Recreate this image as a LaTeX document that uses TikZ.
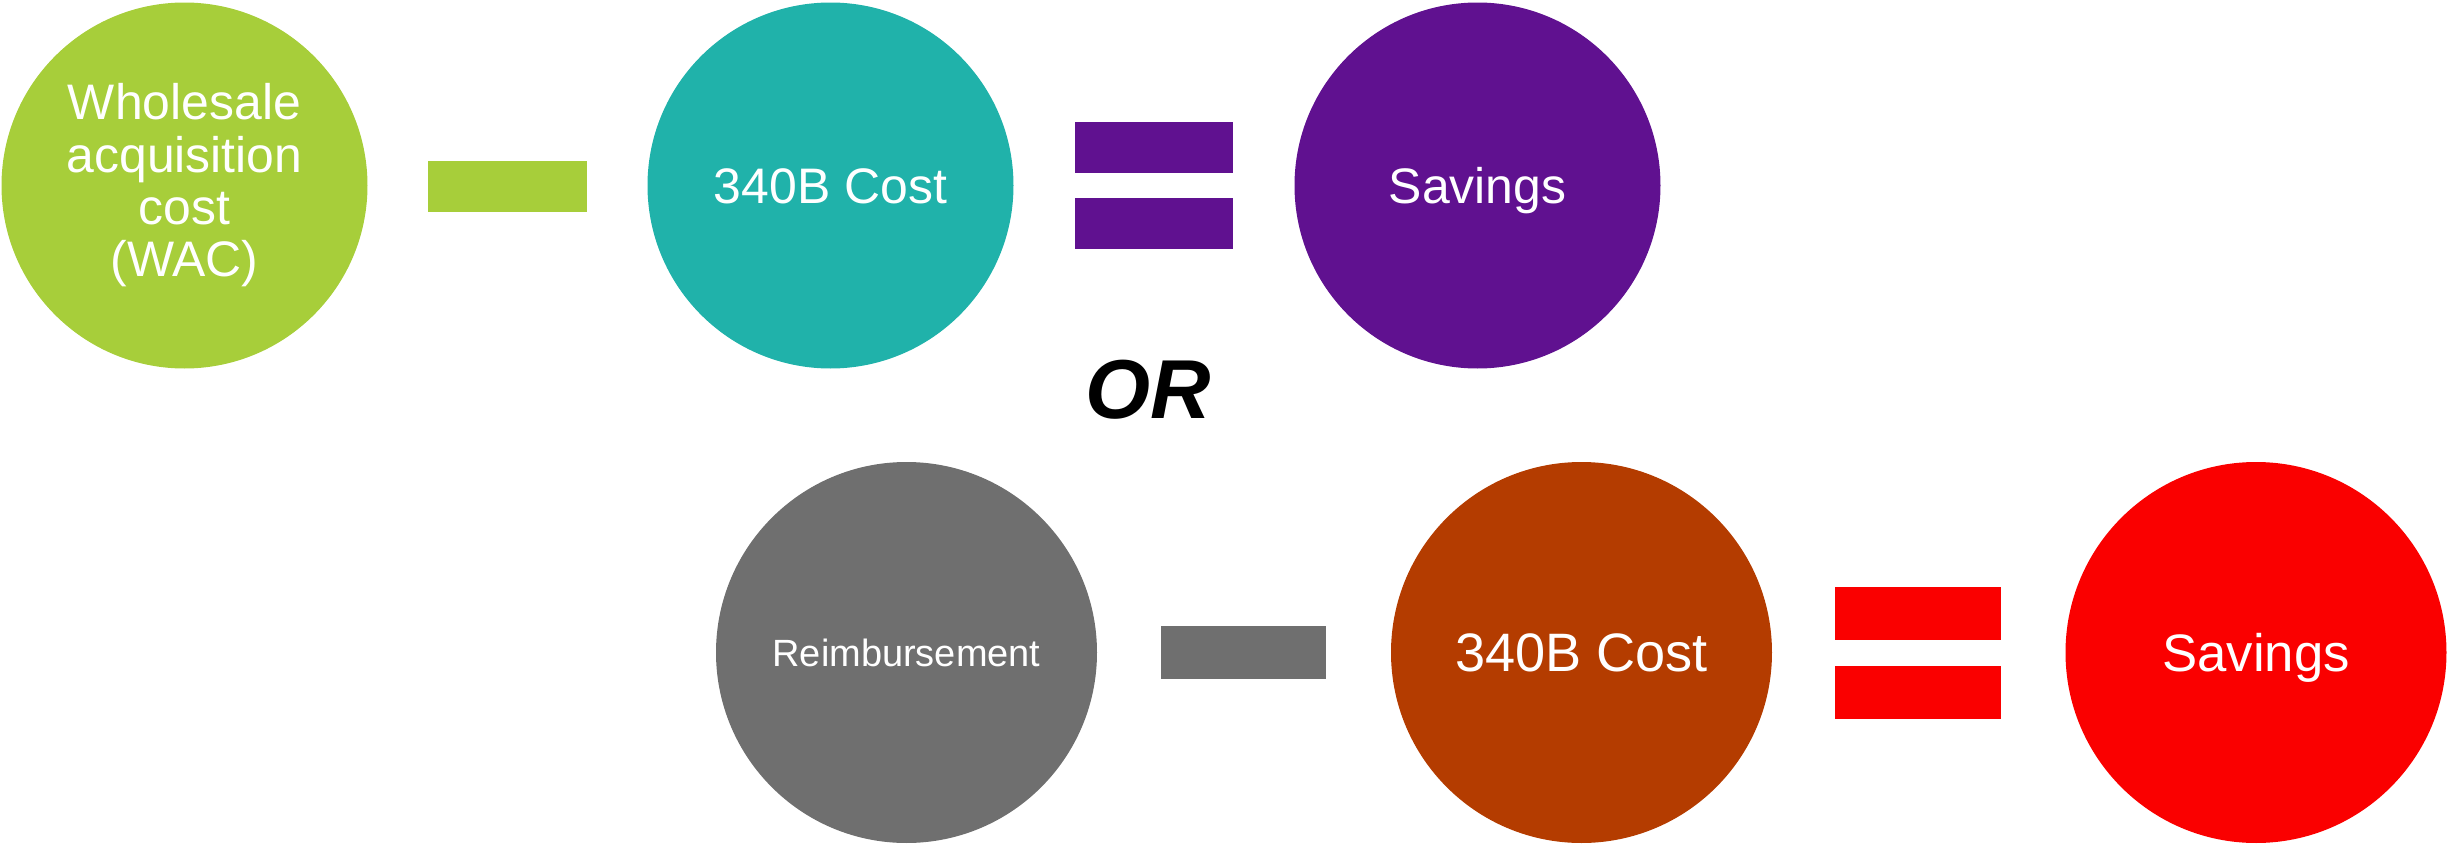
\documentclass[tikz,border=0pt]{standalone}
\usepackage{fontspec}
\setmainfont{Liberation Sans}

\definecolor{wacgreen}{HTML}{A7CE3A}
\definecolor{costteal}{HTML}{20B2AA}
\definecolor{savpurple}{HTML}{601190}
\definecolor{reimbgray}{HTML}{6F6F6F}
\definecolor{costbrown}{HTML}{B43C00}
\definecolor{savred}{HTML}{FA0000}

\tikzset{
  ball/.style={circle, inner sep=0pt, outer sep=0pt, text=white, align=center},
  topball/.style={ball, minimum size=36.6mm, font=\fontsize{14.2}{14.9}\selectfont},
  lowball/.style={ball, minimum size=38.1mm},
}

\begin{document}
\begin{tikzpicture}[x=0.1mm,y=-0.1mm]
\useasboundingbox (0,0) rectangle (2447,845);

% first line: WAC - 340B = savings
\node[topball, fill=wacgreen] (wac) at (184.5,185.5) {Wholesale\\acquisition\\cost\\(WAC)};
\node[topball, fill=costteal, text height=10.2pt, text depth=0pt] (cost1) at (830.5,185.5) {340B Cost};
\node[topball, fill=savpurple, text height=10.2pt, text depth=0pt] (sav1) at (1477.5,185.5) {Savings};

\fill[wacgreen] (428,161) rectangle (587,212);
\foreach \y in {122,198}
\fill[savpurple] (1075,\y) rectangle (1233,\y+51);

\node[font=\fontsize{23.8}{24}\selectfont\bfseries\itshape] (or) at (1148.5,389.5) {OR};

% second line: reimbursement - 340B = savings
\node[lowball, fill=reimbgray, font=\fontsize{10.8}{12}\selectfont, text height=7.7pt, text depth=0pt] (reimb) at (906.5,652.5) {Reimbursement};
\node[lowball, fill=costbrown, font=\fontsize{15.4}{16}\selectfont, text height=11pt, text depth=0pt] (cost2) at (1581.5,652.5) {340B Cost};
\node[lowball, fill=savred, font=\fontsize{15}{16}\selectfont, text height=10.8pt, text depth=0pt] (sav2) at (2256,652.5) {Savings};

\fill[reimbgray] (1161,626) rectangle (1326,679);
\foreach \y in {587,666}
\fill[savred] (1835,\y) rectangle (2001,\y+53);
\end{tikzpicture}
\end{document}
